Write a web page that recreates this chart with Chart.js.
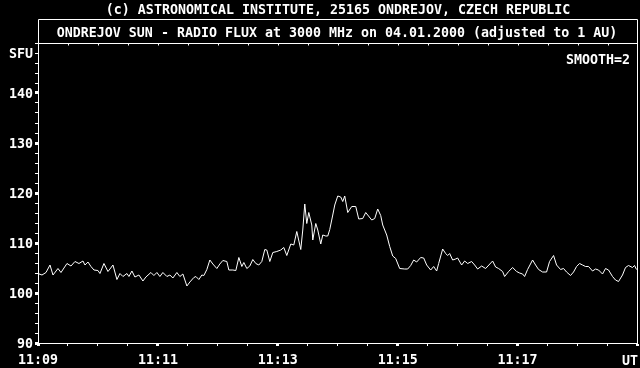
<!DOCTYPE html>
<html><head><meta charset="utf-8">
<script src="https://cdn.jsdelivr.net/npm/chart.js@4"></script>
<style>html,body{margin:0;padding:0;background:#000;}canvas{display:block;}</style>
</head><body>
<canvas id="c" width="640" height="368"></canvas>
<script>
const TITLE_TOP = '(c) ASTRONOMICAL INSTITUTE, 25165 ONDREJOV, CZECH REPUBLIC';
const TITLE_BOX = 'ONDREJOV SUN - RADIO FLUX at 3000 MHz on 04.01.2000 (adjusted to 1 AU)';
const SMOOTH_LABEL = 'SMOOTH=2';
const Y_UNIT = 'SFU';
const X_UNIT = 'UT';

// seconds after 11:09:00 UT
const seconds = [0,4,8,12,15,20,23,29,33,37,41,45,47,50,53,56,60,62,66,70,72,75,79,82,85,89,91,94,97,101,105,108,113,116,119,122,125,129,132,135,139,142,145,149,152,156,158,161,164,166,169,172,175,179,182,185,189,191,195,198,201,204,206,209,212,215,218,221,224,227,229,232,235,239,243,246,249,253,256,259,263,265,267,269,271,274,275,278,280,283,285,288,290,292,295,297,300,303,305,307,310,314,318,321,325,328,330,334,337,340,343,345,349,352,355,358,362,367,370,373,376,379,383,386,389,393,396,399,401,405,408,410,412,415,418,420,424,427,430,434,437,440,444,448,455,458,461,465,467,471,475,479,482,485,487,490,495,498,501,505,509,512,516,519,523,526,529,533,536,539,542,545,548,551,555,558,561,565,568,571,575,578,581,585,588,591,595,597,599];
// radio flux, SFU
const flux = [103.9,103.6,104.1,105.6,103.6,104.9,104.1,105.9,105.4,106.3,105.9,106.4,105.6,106.2,105.3,104.6,104.5,103.9,105.9,104.3,104.8,105.6,102.7,103.9,103.3,103.9,103.3,104.4,103.2,103.6,102.4,103.2,104.1,103.5,104.1,103.3,104.1,103.3,103.6,103.0,104.1,103.3,103.8,101.4,102.2,103.1,103.3,102.7,103.6,103.5,104.7,106.6,105.8,104.9,105.8,106.5,106.3,104.6,104.6,104.5,107.1,105.3,106.1,104.9,105.4,106.7,105.9,105.6,106.3,108.7,108.6,106.3,108.1,108.3,108.6,109.1,107.5,109.8,109.6,112.3,108.7,112.6,117.8,113.9,116.1,113.6,110.6,113.9,112.6,109.8,111.6,111.4,111.4,112.7,115.6,117.6,119.4,119.2,118.3,119.4,116.1,117.3,117.3,114.8,114.9,116.1,115.6,114.6,114.9,116.8,115.5,113.6,111.6,109.3,107.4,106.9,104.9,104.8,104.8,105.5,106.6,106.2,107.1,107.0,105.6,104.6,105.3,104.4,105.9,108.8,107.9,107.5,107.9,106.6,106.8,107.0,105.6,106.4,105.9,106.3,105.6,104.8,105.4,104.9,106.4,105.2,104.9,104.3,103.3,104.3,105.1,104.3,104.0,103.8,103.3,104.7,106.6,105.6,104.7,104.2,104.2,106.3,107.5,105.6,104.7,104.9,104.2,103.5,104.2,105.3,105.9,105.6,105.3,105.3,104.4,104.8,104.6,103.8,104.9,104.6,103.3,102.6,102.3,103.6,105.1,105.5,105.1,105.5,104.7];

const xTickLabels = ['11:09','11:11','11:13','11:15','11:17']; // every 120 s
const yTickLabels = ['90','100','110','120','130','140'];      // every 10 SFU

const FONT = {family: "'DejaVu Sans Mono','Liberation Mono',monospace", size: 13.3, weight: 'bold'};
const FONT_CSS = "bold 13.3px 'DejaVu Sans Mono','Liberation Mono',monospace";

const framePlugin = {
  id: 'frame',
  afterDraw(chart) {
    const {ctx, chartArea: a, scales} = chart;
    const L = Math.round(a.left) + 0.5, R = Math.floor(a.right) + 0.5;
    const T = Math.round(a.top) + 0.5, B = Math.round(a.bottom) + 0.5;
    const boxTop = 19.5;
    ctx.save();
    ctx.strokeStyle = '#fff';
    ctx.lineWidth = 1;
    ctx.beginPath();
    ctx.moveTo(L, boxTop); ctx.lineTo(R, boxTop);
    ctx.moveTo(L, boxTop); ctx.lineTo(L, T);
    ctx.moveTo(R, boxTop); ctx.lineTo(R, B);
    ctx.moveTo(L, T); ctx.lineTo(R, T);
    // top ticks
    for (let t = 30; t < 600; t += 30) {
      const x = Math.round(scales.x.getPixelForValue(t)) + 0.5;
      ctx.moveTo(x, T); ctx.lineTo(x, T + 2);
    }
    ctx.stroke();
    ctx.fillStyle = '#fff';
    ctx.font = FONT_CSS;
    ctx.textBaseline = 'alphabetic';
    ctx.textAlign = 'center';
    ctx.fillText(TITLE_TOP, (L + R) / 2, 13.5);
    ctx.fillText(TITLE_BOX, (L + R) / 2 - 1, 36.5);
    ctx.textAlign = 'right';
    ctx.fillText(SMOOTH_LABEL, 630, 64);
    ctx.fillText(X_UNIT, 638, 365);
    ctx.restore();
  }
};

new Chart(document.getElementById('c'), {
  type: 'line',
  data: {
    datasets: [{
      data: seconds.map((s, i) => ({x: s, y: flux[i]})),
      borderColor: '#fff',
      borderWidth: 1,
      pointRadius: 0,
      tension: 0,
      fill: false
    }]
  },
  options: {
    responsive: false,
    animation: false,
    devicePixelRatio: 1,
    layout: {padding: {top: 43, right: 2.5, left: 0, bottom: 0}},
    plugins: {legend: {display: false}, tooltip: {enabled: false}},
    scales: {
      x: {
        type: 'linear', min: 0, max: 600,
        afterFit(s) { s.height = 25; s.paddingLeft = 0; s.paddingRight = 0; },
        border: {display: true, color: '#fff', width: 1},
        grid: {drawOnChartArea: false, drawTicks: true, tickLength: 3, color: '#fff',
          tickColor: '#fff',
          tickWidth: (c) => (c.tick && c.tick.value % 120 === 0) ? 3 : 1},
        ticks: {
          stepSize: 30, autoSkip: false, maxRotation: 0, color: '#fff', font: FONT, padding: 7,
          callback: (v) => (v % 120 === 0 && v < 600) ? xTickLabels[v / 120] : ''
        }
      },
      y: {
        min: 90, max: 150,
        afterFit(s) { s.width = 38; s.paddingTop = 0; s.paddingBottom = 0; },
        border: {display: true, color: '#fff', width: 1},
        grid: {drawOnChartArea: false, drawTicks: true, tickLength: 3, color: '#fff',
          tickColor: '#fff',
          tickWidth: (c) => (c.tick && c.tick.value % 10 === 0 && c.tick.value < 150) ? 3 : 1},
        ticks: {
          stepSize: 2, autoSkip: false, color: '#fff', font: FONT, padding: 2, labelOffset: 1.5,
          callback: (v) => {
            if (v === 148) return Y_UNIT;
            if (v % 10 === 0 && v < 150) return yTickLabels[(v - 90) / 10];
            return '';
          }
        }
      }
    }
  },
  plugins: [framePlugin]
});
</script>
</body></html>
